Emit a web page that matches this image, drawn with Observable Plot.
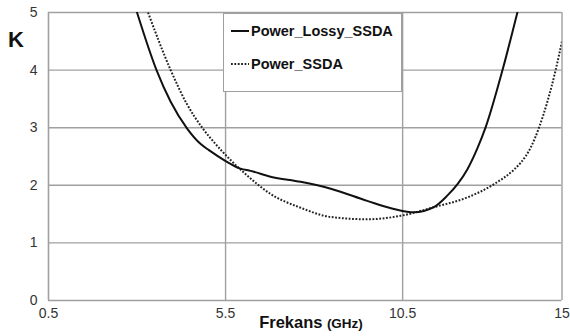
<!DOCTYPE html>
<html>
<head>
<meta charset="utf-8">
<script src="https://cdn.jsdelivr.net/npm/d3@7"></script>
<script src="https://cdn.jsdelivr.net/npm/@observablehq/plot@0.6"></script>
<style>
  body { margin: 0; background: #fff; font-family: "Liberation Sans", Arial, sans-serif; }
  #wrap { position: relative; width: 570px; height: 336px; overflow: hidden; }
  #ylab { position: absolute; left: 8px; top: 29px; font-size: 22px; font-weight: bold; color: #111; line-height: 1; }
  #xlab { position: absolute; left: 0; width: 622px; top: 314px; text-align: center; font-weight: bold; color: #111; line-height: 1; }
  #xlab .a { font-size: 16.5px; }
  #xlab .b { font-size: 13.5px; }
  #legend { position: absolute; left: 223px; top: 13px; width: 177px; height: 77px; border: 1.5px solid #a0a0a0; background: #fff; }
  .row { position: absolute; left: 7px; font-size: 14.5px; font-weight: bold; color: #111; line-height: 1; white-space: nowrap; display: flex; align-items: center; }
  .row svg { margin-right: 2px; }
</style>
</head>
<body>
<div id="wrap">
  <div id="chart"></div>
  <div id="ylab">K</div>
  <div id="xlab"><span class="a">Frekans</span> <span class="b">(GHz)</span></div>
  <div id="legend"></div>
</div>
<script>
// Power_Lossy_SSDA (solid)
const lossyX = [3.0, 3.55, 3.95, 4.42, 4.79, 5.03, 5.48, 5.92, 6.21, 6.77, 7.62, 8.47, 9.5, 10.25, 10.82, 11.38, 11.76, 12.05, 12.33, 12.61, 12.84, 13.32, 13.74];
const lossyY = [5.0, 4.0, 3.45, 2.98, 2.72, 2.61, 2.43, 2.29, 2.25, 2.15, 2.06, 1.94, 1.73, 1.59, 1.53, 1.62, 1.82, 2.02, 2.28, 2.64, 3.0, 4.0, 5.0];
// Power_SSDA (dotted)
const ssdaX = [3.31, 3.95, 4.4, 4.84, 5.17, 5.64, 6.11, 6.77, 7.62, 8.47, 9.5, 10.44, 11.38, 12.33, 13.08, 13.64, 13.83, 14.12, 14.35, 14.82, 15.0];
const ssdaY = [5.0, 4.0, 3.42, 3.0, 2.75, 2.44, 2.17, 1.85, 1.61, 1.45, 1.41, 1.47, 1.62, 1.79, 2.02, 2.27, 2.39, 2.66, 3.0, 4.0, 4.5];

const seriesNames = ["Power_Lossy_SSDA", "Power_SSDA"];
const xTicks = [0.5, 5.5, 10.5, 15];
const yTicks = [0, 1, 2, 3, 4, 5];
const xGrid = [5.5, 10.5, 15];
const yGrid = [1, 2, 3, 4, 5];

const lossy = lossyX.map((x, i) => ({x, y: lossyY[i]}));
const ssda = ssdaX.map((x, i) => ({x, y: ssdaY[i]}));

const gridColor = "#a0a0a0";
const dotDash = "1.8,1.6";

const chart = Plot.plot({
  width: 570,
  height: 336,
  marginLeft: 48,
  marginRight: 8.5,
  marginTop: 12,
  marginBottom: 36,
  style: { fontFamily: "Liberation Sans, Arial, sans-serif", fontSize: "14px", color: "#333", background: "#fff" },
  x: { domain: [0.5, 15], label: null },
  y: { domain: [0, 5], label: null },
  marks: [
    Plot.ruleY(yGrid, { stroke: gridColor, strokeWidth: 1.4 }),
    Plot.ruleX(xGrid, { stroke: gridColor, strokeWidth: 1.4 }),
    Plot.ruleX([0.5], { stroke: gridColor, strokeWidth: 1.6 }),
    Plot.ruleY([0], { stroke: gridColor, strokeWidth: 1.6 }),
    Plot.line(ssda, { x: "x", y: "y", curve: "monotone-x", stroke: "#222", strokeWidth: 2, strokeDasharray: dotDash, strokeLinecap: "butt", clip: true }),
    Plot.line(lossy, { x: "x", y: "y", curve: "monotone-x", stroke: "#111", strokeWidth: 2, clip: true }),
    Plot.axisX({ ticks: xTicks, tickSize: 0, tickPadding: 8, tickFormat: d => String(d), label: null }),
    Plot.axisY({ ticks: yTicks, tickSize: 0, tickPadding: 11, tickFormat: d => String(d), label: null })
  ]
});
document.getElementById("chart").appendChild(chart);

// legend
const legend = document.getElementById("legend");
const dashes = [null, dotDash];
const tops = [10, 43];
seriesNames.forEach((name, i) => {
  const row = document.createElement("div");
  row.className = "row";
  row.style.top = tops[i] + "px";
  const dash = dashes[i] ? ` stroke-dasharray="${dashes[i]}"` : "";
  row.innerHTML = `<svg width="18" height="10"><line x1="0" y1="5" x2="18" y2="5" stroke="${i ? '#222' : '#111'}" stroke-width="2" stroke-linecap="butt"${dash}/></svg><span>${name}</span>`;
  legend.appendChild(row);
});
</script>
</body>
</html>
